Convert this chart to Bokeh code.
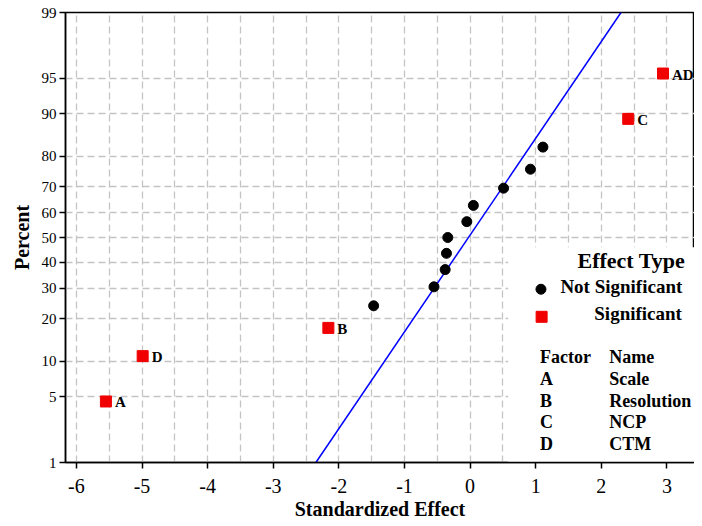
from statistics import NormalDist
from bokeh.plotting import figure
from bokeh.models import Range1d, FixedTicker, ColumnDataSource
from bokeh.core.properties import value
from bokeh.embed import file_html
from bokeh.resources import INLINE

# ---------------- data ----------------
sig_labels = ["A", "D", "B", "C", "AD"]
sig_effects = [-5.55, -4.99, -2.16, 2.41, 2.94]
sig_percent = [4.5, 11.0, 17.5, 89.0, 95.5]

ns_effects = [-1.47, -0.55, -0.38, -0.36, -0.34, -0.05, 0.05, 0.51, 0.92, 1.11]
ns_percent = [24.0, 30.5, 37.0, 43.5, 50.0, 56.5, 63.0, 69.5, 76.0, 82.5]

fit_effects = [-2.35, 2.30]
fit_percent = [1, 99]

y_tick_percent = [1, 5, 10, 20, 30, 40, 50, 60, 70, 80, 90, 95, 99]
x_ticks = [-6, -5, -4, -3, -2, -1, 0, 1, 2, 3]
x_tick_labels = ["-6", "-5", "-4", "-3", "-2", "-1", "0", "1", "2", "3"]
x_grid = [-6, -5.5, -5, -4.5, -4, -3.5, -3, -2.5, -2, -1.5, -1, -0.5,
          0, 0.5, 1, 1.5, 2, 2.5, 3, 3.5]

factor_letters = ["A", "B", "C", "D"]
factor_names = ["Scale", "Resolution", "NCP", "CTM"]

# ---------------- helpers ----------------
_nd = NormalDist()


def probit(p):
    return round(_nd.inv_cdf(p / 100.0), 9)


FONT = "Liberation Serif"
X_MIN, X_MAX = -6.166, 3.42

p = figure(width=694, height=522,
           x_range=Range1d(X_MIN, X_MAX),
           y_range=Range1d(probit(1), probit(99)),
           output_backend="svg", toolbar_location=None,
           min_border_left=65, min_border_right=0,
           min_border_top=12, min_border_bottom=58)

p.background_fill_color = "white"
p.border_fill_color = "white"
p.outline_line_color = "black"
p.outline_line_width = 1.5

# grids
p.xgrid.ticker = FixedTicker(ticks=x_grid)
p.ygrid.ticker = FixedTicker(ticks=[probit(v) for v in y_tick_percent])
for g in (p.xgrid, p.ygrid):
    g.grid_line_color = "#c4c4c4"
    g.grid_line_dash = "7 4"
    g.grid_line_width = 1.3

# axes
p.xaxis.ticker = FixedTicker(ticks=x_ticks)
p.xaxis.major_label_overrides = {t: s for t, s in zip(x_ticks, x_tick_labels)}
yt = [probit(v) for v in y_tick_percent]
p.yaxis.ticker = FixedTicker(ticks=yt)
p.yaxis.major_label_overrides = {t: str(v) for t, v in zip(yt, y_tick_percent)}

for ax in (p.xaxis, p.yaxis):
    ax.axis_line_color = "black"
    ax.axis_line_width = 1.5
    ax.major_tick_line_color = "black"
    ax.major_tick_line_width = 1.5
    ax.major_tick_out = 6
    ax.major_tick_in = 0
    ax.minor_tick_line_color = None
    ax.major_label_text_font = FONT
    ax.major_label_text_color = "black"
    ax.axis_label_text_font = FONT
    ax.axis_label_text_font_style = "bold"
    ax.axis_label_text_color = "black"
    ax.axis_label_text_font_size = "20px"

p.xaxis.major_label_text_font_size = "20px"
p.xaxis.major_label_standoff = 10
p.xaxis.axis_label = "Standardized Effect"
p.xaxis.axis_label_standoff = 2

p.yaxis.major_label_text_font_size = "15px"
p.yaxis.major_label_standoff = 3
p.yaxis.axis_label = "Percent"
p.yaxis.axis_label_standoff = 6

# white legend panel (covers grid)
p.quad(left=0.58, right=X_MAX, bottom=probit(1), top=-0.1,
       fill_color="white", line_color=None)

# fitted reference line
p.line(x=fit_effects, y=[probit(v) for v in fit_percent],
       line_color="#0000ff", line_width=1.5)

# not significant effects
p.scatter(x=ns_effects, y=[probit(v) for v in ns_percent],
          marker="circle", size=10, fill_color="black", line_color="black")

# significant effects
sig_src = ColumnDataSource(dict(x=sig_effects,
                                y=[probit(v) for v in sig_percent],
                                lab=sig_labels))
p.scatter(x="x", y="y", source=sig_src, marker="square", size=11,
          fill_color="#f00000", line_color="#f00000")
p.text(x="x", y="y", text="lab", source=sig_src, x_offset=9, y_offset=1,
       text_font=value(FONT), text_font_style="bold",
       text_font_size="15px", text_align="left", text_baseline="middle",
       text_color="black")

# legend
p.text(x=[1.637], y=[-0.237], text=["Effect Type"],
       text_font=value(FONT), text_font_style="bold", text_font_size="22px",
       text_align="left", text_baseline="middle", text_color="black")
p.scatter(x=[1.08], y=[-0.535], marker="circle", size=10,
          fill_color="black", line_color="black")
p.text(x=[1.376], y=[-0.504], text=["Not Significant"],
       text_font=value(FONT), text_font_style="bold", text_font_size="19px",
       text_align="left", text_baseline="middle", text_color="black")
p.scatter(x=[1.09], y=[-0.82], marker="square", size=11,
          fill_color="#f00000", line_color="#f00000")
p.text(x=[1.893], y=[-0.782], text=["Significant"],
       text_font=value(FONT), text_font_style="bold", text_font_size="19px",
       text_align="left", text_baseline="middle", text_color="black")

rows_y = [-1.238, -1.462, -1.691, -1.907, -2.131]
p.text(x=[1.065] * 5, y=rows_y, text=["Factor"] + factor_letters,
       text_font=value(FONT), text_font_style="bold", text_font_size="18px",
       text_align="left", text_baseline="middle", text_color="black")
p.text(x=[2.119] * 5, y=rows_y, text=["Name"] + factor_names,
       text_font=value(FONT), text_font_style="bold", text_font_size="18px",
       text_align="left", text_baseline="middle", text_color="black")

open("out.html", "w").write(file_html(p, INLINE))
